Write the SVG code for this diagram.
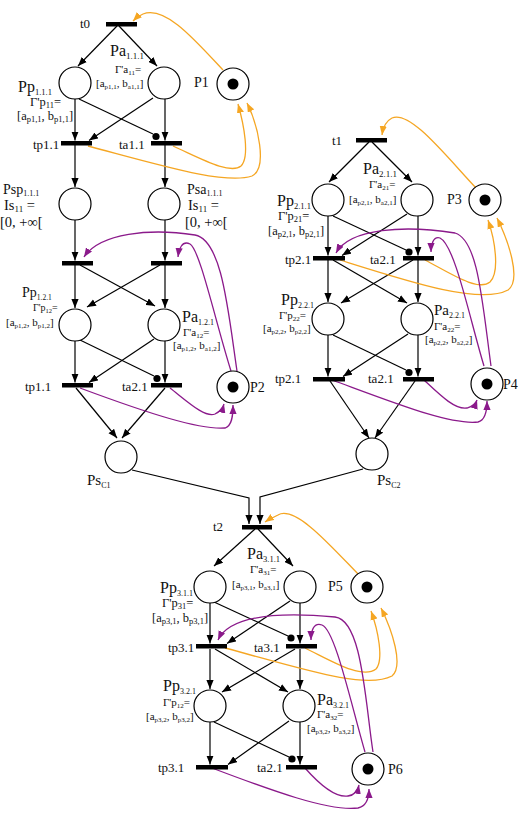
<svg xmlns="http://www.w3.org/2000/svg" width="519" height="814" viewBox="0 0 519 814">
<style>
text{font-family:"Liberation Serif","Times New Roman",serif;fill:#111}
.place{fill:#fff;stroke:#000;stroke-width:1.2}
.tok{fill:#000}
.bar{fill:#000}
.k{fill:none;stroke:#000;stroke-width:1.2}
.o{fill:none;stroke:#F5A623;stroke-width:1.3}
.p{fill:none;stroke:#8B1A8B;stroke-width:1.3}
.dot{fill:#000}
.f13{font-size:13px}.f14{font-size:14px}.f145{font-size:14.5px}.f15{font-size:15px}.f16{font-size:16px}
.g11{font-size:11px}.g125{font-size:12.5px}.g10{font-size:10px}
</style>
<defs>
<marker id="ak" viewBox="0 0 10 8" refX="10" refY="4" markerWidth="9" markerHeight="7.5" orient="auto" markerUnits="userSpaceOnUse"><path d="M0,0 L10,4 L0,8 z" fill="#000"/></marker>
<marker id="ao" viewBox="0 0 10 8" refX="10" refY="4" markerWidth="9" markerHeight="7.5" orient="auto" markerUnits="userSpaceOnUse"><path d="M0,0 L10,4 L0,8 z" fill="#F5A623"/></marker>
<marker id="ap" viewBox="0 0 10 8" refX="10" refY="4" markerWidth="9" markerHeight="7.5" orient="auto" markerUnits="userSpaceOnUse"><path d="M0,0 L10,4 L0,8 z" fill="#8B1A8B"/></marker>
</defs>

<g id="connectors">
<!-- block 1 black -->
<path class="k" marker-end="url(#ak)" d="M117 26 L78 66"/>
<path class="k" marker-end="url(#ak)" d="M119 26 L157 66"/>
<path class="k" marker-end="url(#ak)" d="M75 99 L75 140.5"/>
<path class="k" marker-end="url(#ak)" d="M165 99 L165 140.5"/>
<path class="k" marker-end="url(#ak)" d="M153 98 L89 140.5"/>
<path class="k" d="M79 99 L153 134"/>
<circle class="dot" cx="156" cy="136.5" r="3.6"/>
<path class="k" marker-end="url(#ak)" d="M75 145 L75 187"/>
<path class="k" marker-end="url(#ak)" d="M165 145 L165 187"/>
<path class="k" marker-end="url(#ak)" d="M75 220 L75 260.5"/>
<path class="k" marker-end="url(#ak)" d="M165 220 L165 260.5"/>
<path class="k" marker-end="url(#ak)" d="M75 265 L75 308"/>
<path class="k" marker-end="url(#ak)" d="M165 265 L165 308"/>
<path class="k" marker-end="url(#ak)" d="M80 265 L155 306"/>
<path class="k" marker-end="url(#ak)" d="M160 265 L87 307"/>
<path class="k" marker-end="url(#ak)" d="M75 341 L75 382.5"/>
<path class="k" marker-end="url(#ak)" d="M165 341 L165 382.5"/>
<path class="k" marker-end="url(#ak)" d="M154 339 L89 382.5"/>
<path class="k" d="M80 340 L154 376"/>
<circle class="dot" cx="157" cy="378.5" r="3.6"/>
<path class="k" marker-end="url(#ak)" d="M76 388 L117 438"/>
<path class="k" marker-end="url(#ak)" d="M165 388 L122 438"/>
<path class="k" marker-end="url(#ak)" d="M132 470 L249 498 L249 524"/>
<path class="k" marker-end="url(#ak)" d="M363 469 L260 497 L260 524"/>
<!-- block 2 black -->
<path class="k" marker-end="url(#ak)" d="M369 142 L329 182"/>
<path class="k" marker-end="url(#ak)" d="M372 142 L412 182"/>
<path class="k" marker-end="url(#ak)" d="M328 216 L328 255.5"/>
<path class="k" marker-end="url(#ak)" d="M418 216 L418 255.5"/>
<path class="k" marker-end="url(#ak)" d="M407 214 L342 255.5"/>
<path class="k" d="M333 216 L406 250"/>
<circle class="dot" cx="409" cy="252" r="3.6"/>
<path class="k" marker-end="url(#ak)" d="M328 260 L328 302"/>
<path class="k" marker-end="url(#ak)" d="M418 260 L418 302"/>
<path class="k" marker-end="url(#ak)" d="M333 260 L407 303"/>
<path class="k" marker-end="url(#ak)" d="M413 260 L341 303"/>
<path class="k" marker-end="url(#ak)" d="M328 335 L328 376.5"/>
<path class="k" marker-end="url(#ak)" d="M418 335 L418 376.5"/>
<path class="k" marker-end="url(#ak)" d="M408 334 L343 376.5"/>
<path class="k" d="M333 335 L406 370"/>
<circle class="dot" cx="409" cy="372.5" r="3.6"/>
<path class="k" marker-end="url(#ak)" d="M330 381 L369 438"/>
<path class="k" marker-end="url(#ak)" d="M415 381 L375 438"/>
<!-- block 3 black -->
<path class="k" marker-end="url(#ak)" d="M255 529 L214 566"/>
<path class="k" marker-end="url(#ak)" d="M258 529 L293 566"/>
<path class="k" marker-end="url(#ak)" d="M210 603 L210 643.5"/>
<path class="k" marker-end="url(#ak)" d="M300 603 L300 643.5"/>
<path class="k" marker-end="url(#ak)" d="M290 601 L227 643.5"/>
<path class="k" d="M214 602 L288 636"/>
<circle class="dot" cx="291" cy="638" r="3.6"/>
<path class="k" marker-end="url(#ak)" d="M210 649 L210 689"/>
<path class="k" marker-end="url(#ak)" d="M300 649 L300 689"/>
<path class="k" marker-end="url(#ak)" d="M215 649 L288 692"/>
<path class="k" marker-end="url(#ak)" d="M295 649 L222 692"/>
<path class="k" marker-end="url(#ak)" d="M210 722 L210 764.5"/>
<path class="k" marker-end="url(#ak)" d="M300 722 L300 764.5"/>
<path class="k" marker-end="url(#ak)" d="M289 721 L228 764.5"/>
<path class="k" d="M214 722 L289 757"/>
<circle class="dot" cx="292" cy="759" r="3.6"/>
<!-- orange -->
<path class="o" marker-end="url(#ao)" d="M223 70 C195 40 165 5 143 14 C138 16 135 19 133 21"/>
<path class="o" marker-end="url(#ao)" d="M88 146 C160 165 225 185 252 176 C268 168 258 125 247 103"/>
<path class="o" marker-end="url(#ao)" d="M173 146 C200 158 230 175 241 166 C250 157 244 125 238 104"/>
<path class="o" marker-end="url(#ao)" d="M476 188 C445 155 410 110 392 118 C386 121 383 128 382 135"/>
<path class="o" marker-end="url(#ao)" d="M340 260 C410 282 480 305 508 290 C522 280 508 240 497 218"/>
<path class="o" marker-end="url(#ao)" d="M425 260 C450 273 478 292 490 282 C500 272 495 240 488 220"/>
<path class="o" marker-end="url(#ao)" d="M358 574 C330 545 295 505 278 515 C272 518 268 520 265 522"/>
<path class="o" marker-end="url(#ao)" d="M225 648 C300 668 365 690 392 676 C404 666 392 630 381 608"/>
<path class="o" marker-end="url(#ao)" d="M305 648 C330 660 362 680 376 669 C384 660 378 630 371 611"/>
<!-- purple -->
<path class="p" marker-end="url(#ap)" d="M237 371 C228 310 222 240 195 235 C150 228 100 233 84 257"/>
<path class="p" marker-end="url(#ap)" d="M231 371 C215 320 200 250 190 244 C182 240 179 249 178 257"/>
<path class="p" marker-end="url(#ap)" d="M170 388 C188 402 205 418 215 414 C221 411 223 408 224 404"/>
<path class="p" marker-end="url(#ap)" d="M80 388 C150 414 200 430 225 428 C232 426 233 416 233 405"/>
<path class="p" marker-end="url(#ap)" d="M491 366 C482 300 478 240 455 233 C405 225 350 228 336 253"/>
<path class="p" marker-end="url(#ap)" d="M484 366 C470 320 455 245 440 238 C433 236 431 245 431 252"/>
<path class="p" marker-end="url(#ap)" d="M424 380 C440 395 455 410 467 408 C474 406 476 403 477 400"/>
<path class="p" marker-end="url(#ap)" d="M332 380 C400 405 450 425 478 422 C486 420 487 410 487 401"/>
<path class="p" marker-end="url(#ap)" d="M373 752 C365 700 362 620 335 617 C280 612 230 615 218 640"/>
<path class="p" marker-end="url(#ap)" d="M365 752 C350 700 335 630 322 625 C313 622 311 632 311 640"/>
<path class="p" marker-end="url(#ap)" d="M305 768 C320 785 335 798 348 796 C355 795 358 790 359 785"/>
<path class="p" marker-end="url(#ap)" d="M212 768 C270 790 330 812 358 808 C367 806 369 798 369 789"/>
</g>

<!-- transitions -->
<g id="t0"><rect class="bar" x="106" y="22" width="31" height="4.5"/><text class="f13" x="80" y="28">t0</text></g>
<g id="tp1_1a"><rect class="bar" x="61" y="141" width="31" height="4.5"/><text class="f13" x="33" y="149">tp1.1</text></g>
<g id="ta1_1"><rect class="bar" x="151" y="141" width="31" height="4.5"/><text class="f13" x="119" y="149">ta1.1</text></g>
<g id="t1_L2"><rect class="bar" x="62" y="261" width="31" height="4.5"/></g>
<g id="t1_R2"><rect class="bar" x="151" y="261" width="31" height="4.5"/></g>
<g id="tp1_1b"><rect class="bar" x="62" y="383" width="31" height="4.5"/><text class="f13" x="25" y="391">tp1.1</text></g>
<g id="ta2_1b1"><rect class="bar" x="151" y="383" width="31" height="4.5"/><text class="f13" x="122" y="391">ta2.1</text></g>
<g id="t1"><rect class="bar" x="356" y="138" width="31" height="4.5"/><text class="f13" x="332" y="145">t1</text></g>
<g id="tp2_1a"><rect class="bar" x="313" y="256" width="32" height="4.5"/><text class="f13" x="285" y="264">tp2.1</text></g>
<g id="ta2_1a"><rect class="bar" x="403" y="256" width="31" height="4.5"/><text class="f13" x="370" y="264">ta2.1</text></g>
<g id="tp2_1b"><rect class="bar" x="313" y="377" width="32" height="4.5"/><text class="f13" x="275" y="383">tp2.1</text></g>
<g id="ta2_1b"><rect class="bar" x="403" y="377" width="31" height="4.5"/><text class="f13" x="368" y="383">ta2.1</text></g>
<g id="t2"><rect class="bar" x="242" y="525" width="30" height="4.5"/><text class="f13" x="213" y="531">t2</text></g>
<g id="tp3_1a"><rect class="bar" x="196" y="644" width="31" height="4.5"/><text class="f13" x="168" y="652">tp3.1</text></g>
<g id="ta3_1a"><rect class="bar" x="286" y="644" width="31" height="4.5"/><text class="f13" x="254" y="652">ta3.1</text></g>
<g id="tp3_1b"><rect class="bar" x="196" y="765" width="32" height="4.5"/><text class="f13" x="158" y="772">tp3.1</text></g>
<g id="ta2_1c"><rect class="bar" x="286" y="765" width="31" height="4.5"/><text class="f13" x="257" y="772">ta2.1</text></g>

<!-- places block 1 -->
<g id="Pp111"><circle class="place" cx="75" cy="83" r="16"/>
<text class="f16" x="18" y="92">Pp<tspan font-size="8.5" dy="2.5">1.1.1</tspan></text>
<text class="g125" x="30" y="106">Γ'p<tspan font-size="8.5" dy="2">11</tspan><tspan dy="-2">=</tspan></text>
<text class="g125" x="17" y="120">[a<tspan font-size="8.5" dy="2">p1,1</tspan><tspan dy="-2">, b</tspan><tspan font-size="8.5" dy="2">p1,1</tspan><tspan dy="-2">]</tspan></text></g>
<g id="Pa111"><circle class="place" cx="164" cy="83" r="16"/>
<text class="f16" x="110" y="56">Pa<tspan font-size="9" dy="2.5">1.1.1</tspan></text>
<text class="g11" x="115" y="73">Γ'a<tspan font-size="7" dy="2">11</tspan><tspan dy="-2">=</tspan></text>
<text class="g11" x="96" y="87">[a<tspan font-size="7" dy="2">p1,1</tspan><tspan dy="-2">, b</tspan><tspan font-size="7" dy="2">a1,1</tspan><tspan dy="-2">]</tspan></text></g>
<g id="P1"><circle class="place" cx="233" cy="84" r="16"/><circle class="tok" cx="233" cy="84" r="5.5"/><text class="f14" x="194" y="87">P1</text></g>
<g id="Psp111"><circle class="place" cx="75" cy="204" r="16"/>
<text class="f14" x="3" y="194">Psp<tspan font-size="8" dy="2">1.1.1</tspan></text>
<text class="f145" x="4" y="210">Is<tspan font-size="9" dy="2">11</tspan><tspan dy="-2"> =</tspan></text>
<text class="f145" x="0" y="227">[0, +∞[</text></g>
<g id="Psa111"><circle class="place" cx="164" cy="204" r="16"/>
<text class="f14" x="187" y="194">Psa<tspan font-size="8" dy="2">1.1.1</tspan></text>
<text class="f145" x="188" y="210">Is<tspan font-size="9" dy="2">11</tspan><tspan dy="-2"> =</tspan></text>
<text class="f145" x="185" y="227">[0, +∞[</text></g>
<g id="Pp121"><circle class="place" cx="75" cy="325" r="16"/>
<text class="f14" x="22" y="297">Pp<tspan font-size="7.5" dy="2.5">1.2.1</tspan></text>
<text class="g10" x="33" y="311">Γ'p<tspan font-size="6.5" dy="2">12</tspan><tspan dy="-2">=</tspan></text>
<text class="g11" x="6" y="326">[a<tspan font-size="7" dy="2">p1,2</tspan><tspan dy="-2">, b</tspan><tspan font-size="7" dy="2">p1,2</tspan><tspan dy="-2">]</tspan></text></g>
<g id="Pa121"><circle class="place" cx="164" cy="325" r="16"/>
<text class="f16" x="182" y="322">Pa<tspan font-size="8" dy="2.5">1.2.1</tspan></text>
<text class="g11" x="183" y="336">Γ'a<tspan font-size="7" dy="2">12</tspan><tspan dy="-2">=</tspan></text>
<text class="g11" x="173" y="349">[a<tspan font-size="7" dy="2">p1,2</tspan><tspan dy="-2">, b</tspan><tspan font-size="7" dy="2">a1,2</tspan><tspan dy="-2">]</tspan></text></g>
<g id="P2"><circle class="place" cx="233" cy="387" r="16"/><circle class="tok" cx="233" cy="387" r="5.5"/><text class="f14" x="250" y="392">P2</text></g>
<g id="Psc1"><circle class="place" cx="121" cy="457" r="16"/><text class="f15" x="87" y="485">Ps<tspan font-size="8" dy="3">C1</tspan></text></g>

<!-- places block 2 -->
<g id="Pp211"><circle class="place" cx="328" cy="200" r="16"/>
<text class="f16" x="277" y="206">Pp<tspan font-size="8.5" dy="2.5">2.1.1</tspan></text>
<text class="g125" x="278" y="220">Γ'p<tspan font-size="8.5" dy="2">21</tspan><tspan dy="-2">=</tspan></text>
<text class="g125" x="268" y="235">[a<tspan font-size="8.5" dy="2">p2,1</tspan><tspan dy="-2">, b</tspan><tspan font-size="8.5" dy="2">p2,1</tspan><tspan dy="-2">]</tspan></text></g>
<g id="Pa211"><circle class="place" cx="417" cy="200" r="16"/>
<text class="f16" x="363" y="174">Pa<tspan font-size="9" dy="2.5">2.1.1</tspan></text>
<text class="g11" x="369" y="188">Γ'a<tspan font-size="7" dy="2">21</tspan><tspan dy="-2">=</tspan></text>
<text class="g11" x="349" y="203">[a<tspan font-size="7" dy="2">p2,1</tspan><tspan dy="-2">, b</tspan><tspan font-size="7" dy="2">a2,1</tspan><tspan dy="-2">]</tspan></text></g>
<g id="P3"><circle class="place" cx="485" cy="200" r="16"/><circle class="tok" cx="485" cy="200" r="5.5"/><text class="f14" x="447" y="204">P3</text></g>
<g id="Pp221"><circle class="place" cx="328" cy="319" r="16"/>
<text class="f16" x="281" y="305">Pp<tspan font-size="8" dy="2.5">2.2.1</tspan></text>
<text class="g11" x="279" y="319">Γ'p<tspan font-size="7" dy="2">22</tspan><tspan dy="-2">=</tspan></text>
<text class="g11" x="263" y="332">[a<tspan font-size="7" dy="2">p2,2</tspan><tspan dy="-2">, b</tspan><tspan font-size="7" dy="2">p2,2</tspan><tspan dy="-2">]</tspan></text></g>
<g id="Pa221"><circle class="place" cx="417" cy="319" r="16"/>
<text class="f15" x="434" y="315">Pa<tspan font-size="8" dy="2.5">2.2.1</tspan></text>
<text class="g11" x="434" y="330">Γ'a<tspan font-size="7" dy="2">22</tspan><tspan dy="-2">=</tspan></text>
<text class="g11" x="425" y="343">[a<tspan font-size="7" dy="2">p2,2</tspan><tspan dy="-2">, b</tspan><tspan font-size="7" dy="2">a2,2</tspan><tspan dy="-2">]</tspan></text></g>
<g id="P4"><circle class="place" cx="487" cy="384" r="16"/><circle class="tok" cx="487" cy="384" r="5.5"/><text class="f14" x="503" y="389">P4</text></g>
<g id="Psc2"><circle class="place" cx="372" cy="454" r="16"/><text class="f15" x="377" y="485">Ps<tspan font-size="8" dy="3">C2</tspan></text></g>

<!-- places block 3 -->
<g id="Pp311"><circle class="place" cx="210" cy="587" r="16"/>
<text class="f16" x="160" y="593">Pp<tspan font-size="8" dy="2.5">3.1.1</tspan></text>
<text class="g125" x="162" y="607">Γ'p<tspan font-size="8.5" dy="2">31</tspan><tspan dy="-2">=</tspan></text>
<text class="g125" x="152" y="622">[a<tspan font-size="8.5" dy="2">p3,1</tspan><tspan dy="-2">, b</tspan><tspan font-size="8.5" dy="2">p3,1</tspan><tspan dy="-2">]</tspan></text></g>
<g id="Pa311"><circle class="place" cx="300" cy="587" r="16"/>
<text class="f16" x="247" y="559">Pa<tspan font-size="8.5" dy="2.5">3.1.1</tspan></text>
<text class="g11" x="250" y="573">Γ'a<tspan font-size="7" dy="2">31</tspan><tspan dy="-2">=</tspan></text>
<text class="g11" x="232" y="588">[a<tspan font-size="7" dy="2">p3,1</tspan><tspan dy="-2">, b</tspan><tspan font-size="7" dy="2">a3,1</tspan><tspan dy="-2">]</tspan></text></g>
<g id="P5"><circle class="place" cx="367" cy="587" r="16"/><circle class="tok" cx="367" cy="587" r="5.5"/><text class="f14" x="328" y="591">P5</text></g>
<g id="Pp321"><circle class="place" cx="210" cy="706" r="16"/>
<text class="f16" x="163" y="691">Pp<tspan font-size="8" dy="2.5">3.2.1</tspan></text>
<text class="g11" x="163" y="706">Γ'p<tspan font-size="7" dy="2">12</tspan><tspan dy="-2">=</tspan></text>
<text class="g11" x="146" y="720">[a<tspan font-size="7" dy="2">p3,2</tspan><tspan dy="-2">, b</tspan><tspan font-size="7" dy="2">p3,2</tspan><tspan dy="-2">]</tspan></text></g>
<g id="Pa321"><circle class="place" cx="299" cy="706" r="16"/>
<text class="f16" x="317" y="705">Pa<tspan font-size="8" dy="2.5">3.2.1</tspan></text>
<text class="g11" x="317" y="718">Γ'a<tspan font-size="7" dy="2">32</tspan><tspan dy="-2">=</tspan></text>
<text class="g11" x="307" y="732">[a<tspan font-size="7" dy="2">p3,2</tspan><tspan dy="-2">, b</tspan><tspan font-size="7" dy="2">a3,2</tspan><tspan dy="-2">]</tspan></text></g>
<g id="P6"><circle class="place" cx="368" cy="769" r="16"/><circle class="tok" cx="368" cy="769" r="5.5"/><text class="f14" x="388" y="774">P6</text></g>
</svg>
